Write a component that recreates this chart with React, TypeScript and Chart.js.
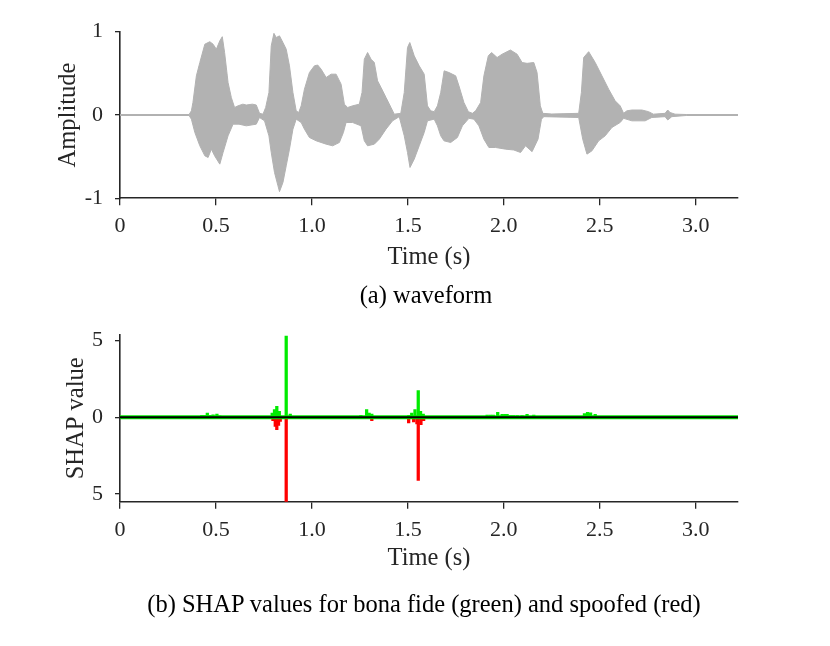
import React, { useEffect, useRef } from "react";
import { Chart, registerables } from "chart.js";

Chart.register(...registerables);

// ---------- data ----------
const X_MAX = 3.22;
const xTickValues = [0, 0.5, 1.0, 1.5, 2.0, 2.5, 3.0];
const xTickLabels = ["0", "0.5", "1.0", "1.5", "2.0", "2.5", "3.0"];

const ampTickValues = [-1, 0, 1];
const ampTickLabels = ["-1", "0", "1"];
const shapTickValues = [-5, 0, 5];
const shapTickLabels = ["5", "0", "5"];

// waveform envelope (upper)
const upperT = [0, 0.36, 0.372, 0.38, 0.398, 0.416, 0.442, 0.468, 0.485, 0.502, 0.52, 0.533, 0.545, 0.563, 0.58, 0.597, 0.615, 0.64, 0.658, 0.69, 0.71, 0.727, 0.745, 0.759, 0.776, 0.788, 0.802, 0.814, 0.831, 0.849, 0.866, 0.883, 0.901, 0.918, 0.931, 0.944, 0.961, 0.987, 1.013, 1.03, 1.048, 1.074, 1.1, 1.126, 1.152, 1.169, 1.186, 1.212, 1.247, 1.261, 1.273, 1.29, 1.308, 1.325, 1.342, 1.36, 1.386, 1.412, 1.429, 1.463, 1.481, 1.498, 1.51, 1.533, 1.559, 1.585, 1.602, 1.619, 1.637, 1.654, 1.671, 1.689, 1.714, 1.749, 1.766, 1.792, 1.815, 1.836, 1.853, 1.879, 1.896, 1.919, 1.936, 1.965, 1.991, 2.034, 2.069, 2.095, 2.121, 2.156, 2.173, 2.19, 2.203, 2.25, 2.39, 2.404, 2.416, 2.442, 2.476, 2.511, 2.546, 2.58, 2.606, 2.624, 2.641, 2.667, 2.719, 2.754, 2.779, 2.84, 2.854, 2.866, 2.892, 2.95, 3.22];
const upperA = [0.006, 0.006, 0.05, 0.15, 0.47, 0.63, 0.85, 0.88, 0.85, 0.79, 0.89, 0.94, 0.75, 0.39, 0.21, 0.09, 0.11, 0.13, 0.12, 0.13, 0.12, 0.02, 0.01, 0.09, 0.27, 0.83, 0.98, 0.93, 0.95, 0.87, 0.79, 0.59, 0.27, 0.05, 0.03, 0.11, 0.31, 0.51, 0.59, 0.6, 0.55, 0.45, 0.49, 0.49, 0.37, 0.13, 0.09, 0.11, 0.13, 0.27, 0.67, 0.75, 0.67, 0.63, 0.41, 0.33, 0.21, 0.09, 0.01, 0.02, 0.27, 0.81, 0.87, 0.71, 0.59, 0.49, 0.11, 0.05, 0.04, 0.11, 0.27, 0.53, 0.51, 0.47, 0.35, 0.15, 0.04, 0.02, 0.05, 0.15, 0.47, 0.71, 0.75, 0.69, 0.73, 0.78, 0.73, 0.63, 0.62, 0.63, 0.51, 0.11, 0.02, 0.012, 0.02, 0.27, 0.69, 0.76, 0.63, 0.47, 0.31, 0.17, 0.11, 0.02, 0.05, 0.06, 0.06, 0.04, 0.01, 0.02, 0.06, 0.03, 0.01, 0.006, 0.006];

// waveform envelope (lower)
const lowerT = [0, 0.36, 0.372, 0.39, 0.416, 0.442, 0.459, 0.476, 0.493, 0.52, 0.537, 0.563, 0.589, 0.62, 0.658, 0.71, 0.727, 0.753, 0.776, 0.788, 0.805, 0.823, 0.831, 0.849, 0.866, 0.883, 0.901, 0.918, 0.944, 0.961, 0.987, 1.022, 1.074, 1.108, 1.143, 1.164, 1.178, 1.212, 1.256, 1.273, 1.29, 1.325, 1.351, 1.386, 1.42, 1.455, 1.481, 1.498, 1.511, 1.533, 1.559, 1.585, 1.602, 1.637, 1.654, 1.671, 1.688, 1.723, 1.758, 1.784, 1.818, 1.844, 1.87, 1.896, 1.922, 1.957, 2.009, 2.052, 2.087, 2.113, 2.147, 2.178, 2.196, 2.208, 2.39, 2.411, 2.433, 2.459, 2.494, 2.528, 2.563, 2.606, 2.624, 2.667, 2.736, 2.771, 2.84, 2.854, 2.875, 2.95, 3.22];
const lowerA = [-0.006, -0.006, -0.05, -0.21, -0.37, -0.49, -0.51, -0.41, -0.49, -0.59, -0.45, -0.25, -0.11, -0.11, -0.13, -0.11, -0.03, -0.07, -0.25, -0.45, -0.69, -0.85, -0.92, -0.81, -0.61, -0.41, -0.17, -0.05, -0.09, -0.17, -0.27, -0.31, -0.35, -0.37, -0.33, -0.21, -0.09, -0.09, -0.13, -0.31, -0.37, -0.35, -0.29, -0.17, -0.07, -0.02, -0.25, -0.45, -0.63, -0.53, -0.37, -0.21, -0.07, -0.05, -0.13, -0.25, -0.31, -0.33, -0.27, -0.13, -0.04, -0.05, -0.13, -0.29, -0.39, -0.39, -0.41, -0.42, -0.45, -0.37, -0.44, -0.29, -0.05, -0.02, -0.03, -0.29, -0.47, -0.43, -0.31, -0.25, -0.15, -0.09, -0.04, -0.07, -0.07, -0.03, -0.02, -0.06, -0.02, -0.006, -0.006];

// SHAP values, bona fide (green)
const bonaT = [0.426, 0.44, 0.455, 0.47, 0.485, 0.505, 0.52, 0.793, 0.805, 0.817, 0.83, 0.866, 0.887, 1.255, 1.285, 1.298, 1.312, 1.505, 1.52, 1.537, 1.554, 1.566, 1.58, 1.7, 1.72, 1.913, 1.93, 1.945, 1.968, 1.991, 2.005, 2.017, 2.034, 2.05, 2.07, 2.095, 2.121, 2.156, 2.42, 2.436, 2.452, 2.476];
const bonaV = [0.13, 0.13, 0.28, 0.13, 0.17, 0.22, 0.1, 0.28, 0.5, 0.72, 0.39, 5.3, 0.22, 0.13, 0.5, 0.28, 0.22, 0.13, 0.28, 0.5, 1.75, 0.39, 0.22, 0.05, 0.06, 0.15, 0.15, 0.15, 0.33, 0.2, 0.2, 0.2, 0.12, 0.12, 0.12, 0.12, 0.2, 0.15, 0.25, 0.33, 0.3, 0.2];

// SHAP values, spoofed (red)
const spoofT = [0.52, 0.797, 0.809, 0.817, 0.826, 0.835, 0.866, 1.255, 1.312, 1.504, 1.53, 1.547, 1.554, 1.568, 1.582];
const spoofV = [-0.08, -0.22, -0.59, -0.8, -0.52, -0.26, -5.5, -0.09, -0.22, -0.37, -0.3, -0.43, -4.12, -0.48, -0.22];

const zeroLineT = [0, X_MAX];
const zeroLineV = [0, 0];

// ---------- styles ----------
const FONT = "'Liberation Serif', 'Times New Roman', Times, serif";
const AXIS_COLOR = "#262626";
const WAVE_GRAY = "rgb(178,178,178)";
const GREEN = "rgb(0,235,0)";
const RED = "rgb(255,0,0)";
const TICK_SIZE = 22;
const TITLE_SIZE = 24.5;

const pts = (t: number[], v: number[]) => t.map((x, i) => ({ x, y: v[i] }));

function makeXScale(axisHeight: number, titleBottomPad: number) {
  return {
    type: "linear" as const,
    min: 0,
    max: X_MAX,
    offset: false,
    grid: {
      display: true,
      drawOnChartArea: false,
      drawTicks: true,
      tickLength: 7,
      color: AXIS_COLOR,
      lineWidth: 1.3,
      offset: false,
    },
    border: { display: true, color: AXIS_COLOR, width: 1.6 },
    ticks: {
      autoSkip: false,
      maxRotation: 0,
      padding: 8,
      color: AXIS_COLOR,
      font: { family: FONT, size: TICK_SIZE },
      callback: (value: number) => {
        const i = xTickValues.findIndex((v) => Math.abs(v - value) < 1e-9);
        return i >= 0 ? xTickLabels[i] : "";
      },
    },
    afterBuildTicks: (s: any) => {
      s.ticks = xTickValues.map((v) => ({ value: v }));
    },
    afterFit: (s: any) => {
      s.height = axisHeight;
      s.paddingLeft = 0;
      s.paddingRight = 0;
    },
    title: {
      display: true,
      text: "Time (s)",
      color: AXIS_COLOR,
      font: { family: FONT, size: TITLE_SIZE },
      padding: { top: 0, bottom: titleBottomPad },
    },
  };
}

function makeYScale(
  min: number,
  max: number,
  tv: number[],
  tl: string[],
  title: string,
  titlePad: number
) {
  return {
    type: "linear" as const,
    min,
    max,
    grid: {
      display: true,
      drawOnChartArea: false,
      drawTicks: true,
      tickLength: 5,
      color: AXIS_COLOR,
      lineWidth: 1.3,
    },
    border: { display: true, color: AXIS_COLOR, width: 1.6 },
    ticks: {
      autoSkip: false,
      padding: 12,
      color: AXIS_COLOR,
      font: { family: FONT, size: TICK_SIZE },
      callback: (value: number) => {
        const i = tv.findIndex((v) => Math.abs(v - value) < 1e-9);
        return i >= 0 ? tl[i] : "";
      },
    },
    afterBuildTicks: (s: any) => {
      s.ticks = tv.map((v) => ({ value: v }));
    },
    afterFit: (s: any) => {
      s.width = 120;
      s.paddingTop = 0;
      s.paddingBottom = 0;
    },
    title: {
      display: true,
      text: title,
      color: AXIS_COLOR,
      font: { family: FONT, size: TITLE_SIZE },
      padding: { top: titlePad, bottom: 0 },
    },
  };
}

const commonPlugins = {
  legend: { display: false },
  tooltip: { enabled: false },
  title: { display: false },
};

export default function App() {
  const topRef = useRef<HTMLCanvasElement>(null);
  const botRef = useRef<HTMLCanvasElement>(null);

  useEffect(() => {
    const top = new Chart(topRef.current as HTMLCanvasElement, {
      type: "line",
      data: {
        datasets: [
          {
            data: pts(upperT, upperA),
            borderColor: WAVE_GRAY,
            backgroundColor: WAVE_GRAY,
            borderWidth: 1,
            pointRadius: 0,
            fill: "origin",
            tension: 0,
          },
          {
            data: pts(lowerT, lowerA),
            borderColor: WAVE_GRAY,
            backgroundColor: WAVE_GRAY,
            borderWidth: 1,
            pointRadius: 0,
            fill: "origin",
            tension: 0,
          },
        ],
      },
      options: {
        responsive: false,
        animation: false,
        events: [],
        layout: { padding: { left: 0, right: 92, top: 31.7, bottom: 0 } },
        plugins: commonPlugins as any,
        scales: {
          x: makeXScale(91.7, 18) as any,
          y: makeYScale(-1, 1, ampTickValues, ampTickLabels, "Amplitude", 54) as any,
        },
      },
    });

    const bot = new Chart(botRef.current as HTMLCanvasElement, {
      type: "bar",
      data: {
        datasets: [
          {
            type: "line",
            data: pts(zeroLineT, zeroLineV),
            borderColor: "#000000",
            borderWidth: 2,
            pointRadius: 0,
            order: 0,
          } as any,
          {
            type: "line",
            data: pts(zeroLineT, zeroLineV),
            borderColor: GREEN,
            borderWidth: 4,
            pointRadius: 0,
            order: 1,
          } as any,
          {
            type: "bar",
            data: pts(bonaT, bonaV),
            backgroundColor: GREEN,
            borderWidth: 0,
            barThickness: 2.6,
            grouped: false,
            order: 2,
          } as any,
          {
            type: "bar",
            data: pts(spoofT, spoofV),
            backgroundColor: RED,
            borderWidth: 0,
            barThickness: 2.6,
            grouped: false,
            order: 3,
          } as any,
        ],
      },
      options: {
        responsive: false,
        animation: false,
        events: [],
        layout: { padding: { left: 0, right: 92, top: 15, bottom: 0 } },
        plugins: commonPlugins as any,
        scales: {
          x: makeXScale(88.3, 17) as any,
          y: makeYScale(-5.5, 5.37, shapTickValues, shapTickLabels, "SHAP value", 62) as any,
        },
      },
    });

    return () => {
      top.destroy();
      bot.destroy();
    };
  }, []);

  const captionBase: React.CSSProperties = {
    position: "absolute",
    left: 0,
    textAlign: "center",
    fontFamily: FONT,
    fontSize: TITLE_SIZE,
    lineHeight: "30px",
    color: "#000",
    whiteSpace: "nowrap",
  };

  return (
    <div
      style={{
        position: "absolute",
        left: 0,
        top: 0,
        width: 830,
        height: 646,
        background: "#fff",
        overflow: "hidden",
      }}
    >
      <canvas
        ref={topRef}
        width={830}
        height={290}
        style={{ position: "absolute", left: 0, top: 0, width: 830, height: 290 }}
      />
      <div style={{ ...captionBase, top: 280, width: 852 }}>(a) waveform</div>
      <canvas
        ref={botRef}
        width={830}
        height={270}
        style={{ position: "absolute", left: 0, top: 320, width: 830, height: 270 }}
      />
      <div style={{ ...captionBase, top: 589, width: 848 }}>
        (b) SHAP values for bona fide (green) and spoofed (red)
      </div>
    </div>
  );
}
